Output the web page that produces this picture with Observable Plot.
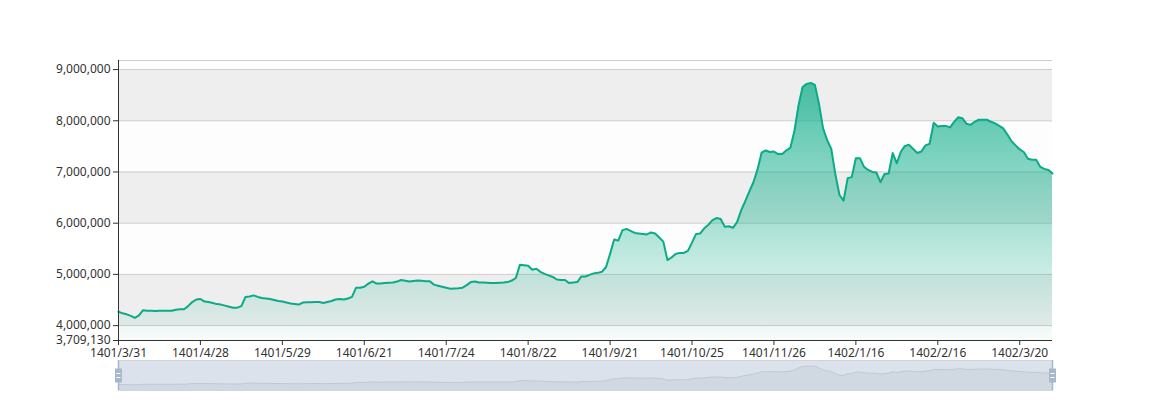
<!DOCTYPE html>
<html>
<head>
<meta charset="utf-8">
<script src="https://cdn.jsdelivr.net/npm/d3@7"></script>
<script src="https://cdn.jsdelivr.net/npm/@observablehq/plot@0.6"></script>
<style>
  html, body { margin: 0; padding: 0; background: #ffffff; }
  #chart svg { display: block; }
</style>
</head>
<body>
<div id="chart"></div>
<script>
// ---- data ----
const xTickLabels = ["1401/3/31", "1401/4/28", "1401/5/29", "1401/6/21", "1401/7/24", "1401/8/22",
  "1401/9/21", "1401/10/25", "1401/11/26", "1402/1/16", "1402/2/16", "1402/3/20"];
const xTickEvery = 20;

const prices = [
  4270000, 4240000, 4220000, 4190000, 4150000, 4200000, 4300000, 4290000, 4290000, 4285000,
  4290000, 4290000, 4290000, 4290000, 4310000, 4320000, 4320000, 4380000, 4460000, 4510000,
  4520000, 4470000, 4460000, 4440000, 4420000, 4410000, 4390000, 4370000, 4350000, 4350000,
  4380000, 4560000, 4570000, 4590000, 4560000, 4540000, 4530000, 4520000, 4500000, 4480000,
  4470000, 4450000, 4430000, 4420000, 4410000, 4450000, 4455000, 4455000, 4460000, 4460000,
  4440000, 4460000, 4480000, 4510000, 4520000, 4510000, 4530000, 4560000, 4740000, 4740000,
  4760000, 4820000, 4865000, 4820000, 4820000, 4830000, 4835000, 4840000, 4860000, 4890000,
  4875000, 4860000, 4870000, 4880000, 4875000, 4865000, 4865000, 4800000, 4780000, 4760000,
  4740000, 4720000, 4725000, 4730000, 4740000, 4790000, 4850000, 4860000, 4840000, 4840000,
  4835000, 4830000, 4830000, 4835000, 4840000, 4850000, 4880000, 4930000, 5190000, 5180000,
  5170000, 5090000, 5110000, 5050000, 5010000, 4980000, 4950000, 4900000, 4890000, 4890000,
  4830000, 4840000, 4850000, 4960000, 4960000, 4990000, 5020000, 5030000, 5050000, 5140000,
  5400000, 5680000, 5660000, 5860000, 5890000, 5850000, 5810000, 5800000, 5790000, 5780000,
  5820000, 5800000, 5720000, 5640000, 5280000, 5330000, 5400000, 5420000, 5420000, 5460000,
  5620000, 5790000, 5800000, 5900000, 5970000, 6060000, 6100000, 6080000, 5930000, 5940000,
  5910000, 6020000, 6250000, 6430000, 6620000, 6800000, 7050000, 7380000, 7420000, 7390000,
  7400000, 7350000, 7350000, 7420000, 7470000, 7800000, 8300000, 8660000, 8720000, 8740000,
  8700000, 8330000, 7850000, 7620000, 7450000, 6950000, 6550000, 6440000, 6880000, 6900000,
  7270000, 7270000, 7100000, 7040000, 7000000, 6990000, 6800000, 6960000, 6970000, 7370000,
  7170000, 7400000, 7510000, 7530000, 7450000, 7370000, 7400000, 7520000, 7550000, 7960000,
  7890000, 7900000, 7900000, 7870000, 7980000, 8070000, 8050000, 7940000, 7920000, 7980000,
  8020000, 8020000, 8020000, 7980000, 7950000, 7900000, 7850000, 7730000, 7600000, 7520000,
  7440000, 7390000, 7260000, 7240000, 7240000, 7100000, 7060000, 7040000, 6970000
];

const yAxisMin = 3709130;
const yAxisMax = 9177000;
const yTicks = [3709130, 4000000, 5000000, 6000000, 7000000, 8000000, 9000000];

// ---- derived tables ----
const N = prices.length;
const data = prices.map((v, i) => ({i, v}));
const bandEdges = [...yTicks, yAxisMax];
const bands = bandEdges.slice(0, -1).map((y1, k) => ({y1, y2: bandEdges[k + 1], k}));
const gridValues = [...yTicks.slice(1), yAxisMax];

const dMin = d3.min(prices), dMax = d3.max(prices);
const pad = (dMax - dMin) * 0.3;
const shadowDomain = [dMin - pad, dMax + pad];

const FONT = "'Noto Sans', 'Open Sans', sans-serif";
const W = 1168;

const gradientDefs = () => {
  const defs = d3.create("svg:defs");
  const g = defs.append("linearGradient").attr("id", "areaGrad")
    .attr("x1", 0).attr("y1", 0).attr("x2", 0).attr("y2", 1);
  g.append("stop").attr("offset", 0).attr("stop-color", "#0eae8a").attr("stop-opacity", 0.75);
  g.append("stop").attr("offset", 1).attr("stop-color", "#0eae8a").attr("stop-opacity", 0.02);
  return defs.node();
};

const main = Plot.plot({
  width: W,
  height: 360,
  marginTop: 60,
  marginBottom: 20,
  marginLeft: 118,
  marginRight: 116,
  style: {fontFamily: FONT, fontSize: "12px", color: "#333", background: "transparent", overflow: "visible"},
  x: {type: "linear", domain: [0, N - 1]},
  y: {domain: [yAxisMin, yAxisMax]},
  marks: [
    gradientDefs,
    Plot.rect(bands, {y1: "y1", y2: "y2", fill: d => (d.k % 2 ? "#eeeeee" : "#fdfdfd")}),
    Plot.ruleY(gridValues, {stroke: "#cccccc", strokeWidth: 1}),
    Plot.areaY(data, {x: "i", y1: yAxisMin, y2: "v", fill: "url(#areaGrad)"}),
    Plot.lineY(data, {x: "i", y: "v", stroke: "#0aab86", strokeWidth: 2, strokeLinejoin: "round"}),
    Plot.ruleX([0], {stroke: "#333", strokeWidth: 1}),
    Plot.ruleY([yAxisMin], {stroke: "#333", strokeWidth: 1}),
    Plot.axisY({ticks: yTicks, tickFormat: d3.format(","), tickSize: 5, tickPadding: 3, label: null}),
    Plot.axisX({
      ticks: d3.range(0, N, xTickEvery),
      tickFormat: i => xTickLabels[i / xTickEvery],
      tickSize: 5, tickPadding: 3, label: null
    })
  ]
});

const handleBody = {
  draw(ctx, size) {
    const r = Math.sqrt(size / Math.PI);
    ctx.rect(-r * 0.5, -r, r, 2 * r);
  }
};
const handleGrip = {
  draw(ctx, size) {
    const r = Math.sqrt(size / Math.PI);
    ctx.moveTo(-r, -r); ctx.lineTo(r, -r);
    ctx.moveTo(-r, r); ctx.lineTo(r, r);
  }
};

const slider = Plot.plot({
  width: W,
  height: 40,
  marginTop: 0,
  marginBottom: 10,
  marginLeft: 118,
  marginRight: 116,
  style: {fontFamily: FONT, fontSize: "12px", background: "transparent", overflow: "visible"},
  x: {type: "linear", domain: [0, N - 1], axis: null},
  y: {domain: shadowDomain, axis: null},
  marks: [
    Plot.frame({stroke: "#dddddd", fill: "none"}),
    Plot.areaY(data, {x: "i", y1: shadowDomain[0], y2: "v", fill: "rgba(47,69,84,0.09)"}),
    Plot.lineY(data, {x: "i", y: "v", stroke: "#2f4554", strokeOpacity: 0.3, strokeWidth: 0.5}),
    Plot.frame({fill: "rgba(167,183,204,0.4)", stroke: null}),
    Plot.ruleX([0, N - 1], {stroke: "#a7b7cc", strokeWidth: 1.5}),
    Plot.dot([0, N - 1], {x: d => d, symbol: handleBody, r: 7, fill: "#a7b7cc", stroke: null}),
    Plot.dot([0, N - 1], {x: d => d, symbol: handleGrip, r: 2, fill: "none", stroke: "#ffffff", strokeWidth: 1})
  ]
});

const root = document.getElementById("chart");
root.appendChild(main);
root.appendChild(slider);
</script>
</body>
</html>
